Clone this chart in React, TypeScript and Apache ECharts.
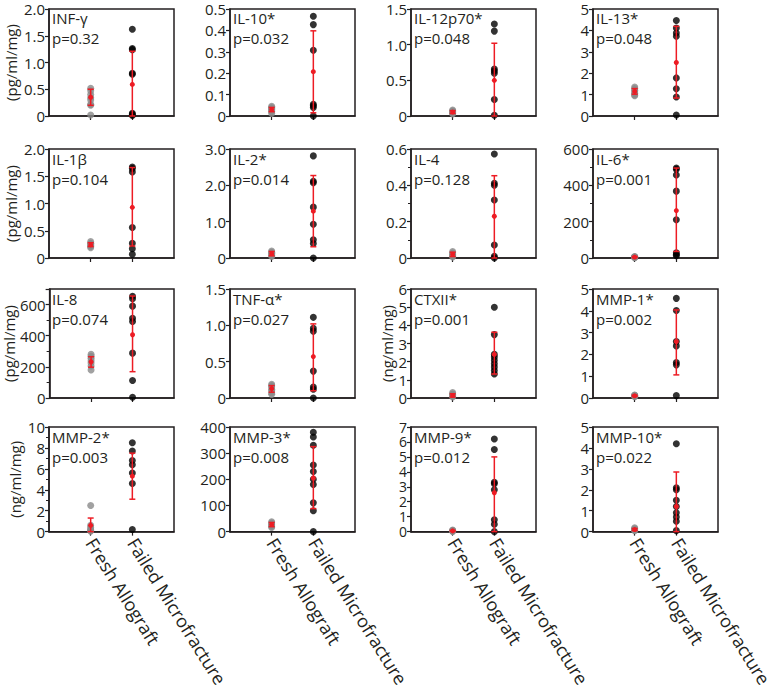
import React, { useEffect, useRef } from 'react';
import * as echarts from 'echarts';

const panelNames = ['INF-γ', 'IL-10*', 'IL-12p70*', 'IL-13*', 'IL-1β', 'IL-2*', 'IL-4', 'IL-6*', 'IL-8', 'TNF-α*', 'CTXII*', 'MMP-1*', 'MMP-2*', 'MMP-3*', 'MMP-9*', 'MMP-10*'];
const pValues = ['p=0.32', 'p=0.032', 'p=0.048', 'p=0.048', 'p=0.104', 'p=0.014', 'p=0.128', 'p=0.001', 'p=0.074', 'p=0.027', 'p=0.001', 'p=0.002', 'p=0.003', 'p=0.008', 'p=0.012', 'p=0.022'];
const yMax = [2, 0.5, 1.5, 5, 2, 3, 0.6, 600, 700, 1.5, 6, 5, 10, 400, 7, 5];
const yInterval = [0.5, 0.1, 0.5, 1, 0.5, 1, 0.2, 200, 200, 0.5, 1, 1, 2, 100, 1, 1];
const yDecimals = [1, 1, 1, 0, 1, 1, 1, 0, 0, 1, 0, 0, 0, 0, 0, 0];
const yMinor = [false, false, false, false, false, false, true, true, true, false, false, false, true, false, false, false];
const yUnits = ['(pg/ml/mg)', '', '', '', '(pg/ml/mg)', '', '', '', '(pg/ml/mg)', '', '(ng/ml/mg)', '', '(ng/ml/mg)', '', '', ''];
const categories = ['', 'Fresh Allograft', 'Failed Microfracture', ' '];

const freshValues = [
  [0.52, 0.47, 0.40, 0.34, 0.30, 0.22, 0.20, 0.02],
  [0.045, 0.04, 0.035, 0.03, 0.025, 0.02, 0.012],
  [0.085, 0.07, 0.06, 0.05, 0.04, 0.03],
  [1.35, 1.28, 1.2, 1.12, 1.05, 0.98, 0.95],
  [0.3, 0.27, 0.25, 0.23, 0.21, 0.19],
  [0.19, 0.16, 0.13, 0.1, 0.07, 0.04],
  [0.035, 0.028, 0.02, 0.015, 0.01, 0.005],
  [8, 6, 5, 4, 3, 2],
  [280, 268, 255, 240, 225, 205, 180],
  [0.19, 0.17, 0.15, 0.12, 0.1, 0.07, 0.05],
  [0.3, 0.22, 0.18, 0.14, 0.1, 0.06],
  [0.14, 0.12, 0.1, 0.08, 0.06],
  [2.5, 0.6, 0.4, 0.2, 0.1, 0.05],
  [38, 33, 28, 24, 20, 16],
  [0.1, 0.07, 0.05, 0.03, 0.02],
  [0.18, 0.14, 0.1, 0.07, 0.04],
];
const freshMean = [0.35, 0.03, 0.055, 1.15, 0.24, 0.12, 0.02, 5, 232, 0.13, 0.14, 0.1, 0.6, 27, 0.05, 0.1];
const freshLow = [0.2, 0.02, 0.035, 1.02, 0.21, 0.06, 0.008, 2, 198, 0.08, 0.05, 0.07, 0, 19, 0.02, 0.05];
const freshHigh = [0.5, 0.04, 0.075, 1.28, 0.28, 0.18, 0.032, 8, 265, 0.17, 0.23, 0.13, 1.3, 35, 0.08, 0.15];

const failedValues = [
  [1.62, 1.26, 1.24, 0.80, 0.78, 0.05, 0.03, 0.01],
  [0.466, 0.427, 0.307, 0.055, 0.048, 0.04, 0.0],
  [1.29, 1.19, 0.66, 0.63, 0.60, 0.23, 0.01],
  [4.46, 4.11, 3.88, 3.73, 1.78, 1.27, 0.89, 0.05],
  [1.67, 1.64, 1.58, 0.56, 0.27, 0.17, 0.07],
  [2.81, 2.11, 2.07, 1.40, 0.93, 0.50, 0.40, 0.0],
  [0.572, 0.411, 0.40, 0.319, 0.072, 0.01, 0.0],
  [495, 488, 457, 368, 211, 29, 19, 13],
  [653, 638, 590, 512, 491, 288, 112, 5],
  [1.11, 0.96, 0.92, 0.37, 0.15, 0.12, 0.0],
  [5.0, 3.49, 2.40, 2.26, 2.08, 1.89, 1.70, 1.51, 1.32],
  [4.57, 4.01, 2.59, 2.39, 1.63, 1.52, 0.11],
  [8.5, 7.7, 6.8, 6.4, 5.6, 4.6, 0.2],
  [380, 362, 330, 255, 230, 200, 180, 110, 80, 0],
  [6.2, 5.5, 3.3, 3.2, 2.8, 0.8, 0.5, 0.0],
  [4.2, 2.1, 2.0, 1.5, 1.2, 0.9, 0.7, 0.5, 0.05],
];
const failedMean = [0.59, 0.207, 0.50, 2.50, 0.93, 1.29, 0.23, 261, 406, 0.57, 2.40, 2.59, 5.3, 205, 2.6, 1.2];
const failedLow = [0, 0.015, 0, 0.84, 0.22, 0.31, 0, 36, 169, 0.10, 1.32, 1.06, 3.1, 88, 0, 0];
const failedHigh = [1.21, 0.398, 1.02, 4.19, 1.66, 2.27, 0.453, 495, 655, 1.02, 3.62, 4.04, 7.5, 325, 5.0, 2.85];

const colLefts = [49, 230, 411, 593];
const rowTops = [9, 149, 289, 427];
const rowHeights = [107, 109, 109, 109];
const gridW = 125;
const INK = '#231f20';
const RED = '#ed1c24';
const FONT = 'Open Sans';

export default function App() {
  const ref = useRef<HTMLDivElement>(null);
  useEffect(() => {
    if (!ref.current) return;
    const chart = echarts.init(ref.current, null, { renderer: 'svg' });
    const grids: any[] = [];
    const xAxes: any[] = [];
    const yAxes: any[] = [];
    const series: any[] = [];
    const titles: any[] = [];
    const nameGaps = [31, 0, 0, 0, 31, 0, 0, 0, 31, 0, 15, 0, 27, 0, 0, 0];
    for (let i = 0; i < 16; i++) {
      const r = Math.floor(i / 4);
      const c = i % 4;
      const left = colLefts[c];
      const top = rowTops[r];
      grids.push({ left, top, width: gridW, height: rowHeights[r], show: true, borderColor: INK, borderWidth: 1.5, backgroundColor: 'transparent' });
      const tickShow = (idx: number) => idx === 1 || idx === 2;
      xAxes.push({
        type: 'category', gridIndex: i, data: categories, boundaryGap: false,
        axisLine: { show: true, lineStyle: { color: INK, width: 1.5 } },
        axisTick: { show: true, interval: tickShow, length: 4, lineStyle: { color: INK, width: 1.2 } },
        axisLabel: {
          show: r === 3, interval: tickShow, rotate: -58, fontSize: 18, color: INK, fontFamily: FONT, margin: 8,
        },
        splitLine: { show: false },
      });
      const dec = yDecimals[i];
      const dense = (yMax[i] / yInterval[i]) > 6;
      yAxes.push({
        type: 'value', gridIndex: i, min: 0, max: yMax[i], interval: yInterval[i],
        name: yUnits[i], nameLocation: 'middle', nameGap: nameGaps[i],
        nameTextStyle: { fontSize: 15, color: INK, fontFamily: FONT },
        axisLine: { show: true, lineStyle: { color: INK, width: 1.5 } },
        axisTick: { show: true, length: 4, lineStyle: { color: INK, width: 1.2 } },
        minorTick: { show: yMinor[i], splitNumber: 2, length: 3, lineStyle: { color: INK, width: 1 } },
        axisLabel: {
          fontSize: dense ? 14 : 15, lineHeight: dense ? 12 : 14, color: INK, fontFamily: FONT, margin: 4, showMaxLabel: i !== 8,
          formatter: (v: number) => (v === 0 ? '0' : v.toFixed(dec)),
        },
        splitLine: { show: false },
      });
      titles.push({
        text: panelNames[i] + '\n' + pValues[i], left: left + 3, top: top - (r === 0 ? 1 : 0), padding: 0,
        textStyle: { fontSize: 15, fontWeight: 'normal', color: INK, fontFamily: FONT, lineHeight: 20 },
      });
      series.push({
        type: 'scatter', xAxisIndex: i, yAxisIndex: i, symbolSize: 7,
        itemStyle: { color: '#8a8a8a' },
        data: freshValues[i].map((v) => [1, v]), z: 2,
      });
      series.push({
        type: 'scatter', xAxisIndex: i, yAxisIndex: i, symbolSize: 7,
        itemStyle: { color: '#000000' },
        data: failedValues[i].map((v) => [2, v]), z: 3,
      });
      series.push({
        type: 'custom', xAxisIndex: i, yAxisIndex: i, z: 4,
        data: [
          [1, freshMean[i], freshLow[i], freshHigh[i]],
          [2, failedMean[i], failedLow[i], failedHigh[i]],
        ],
        encode: { x: 0, y: [1, 2, 3] },
        renderItem: (params: any, api: any) => {
          const x = api.value(0);
          const m = api.coord([x, api.value(1)]);
          const lo = api.coord([x, api.value(2)]);
          const hi = api.coord([x, api.value(3)]);
          const cw = 3;
          const style = { stroke: RED, lineWidth: 1.5 };
          return {
            type: 'group',
            children: [
              { type: 'line', shape: { x1: m[0], y1: lo[1], x2: m[0], y2: hi[1] }, style },
              { type: 'line', shape: { x1: m[0] - cw, y1: hi[1], x2: m[0] + cw, y2: hi[1] }, style },
              { type: 'line', shape: { x1: m[0] - cw, y1: lo[1], x2: m[0] + cw, y2: lo[1] }, style },
              { type: 'circle', shape: { cx: m[0], cy: m[1], r: 2.5 }, style: { fill: RED } },
            ],
          };
        },
      });
    }
    chart.setOption({
      animation: false,
      backgroundColor: '#ffffff',
      title: titles,
      grid: grids,
      xAxis: xAxes,
      yAxis: yAxes,
      series,
    });
    return () => chart.dispose();
  }, []);
  return <div ref={ref} style={{ position: 'absolute', left: 0, top: 0, width: 780, height: 690 }} />;
}
